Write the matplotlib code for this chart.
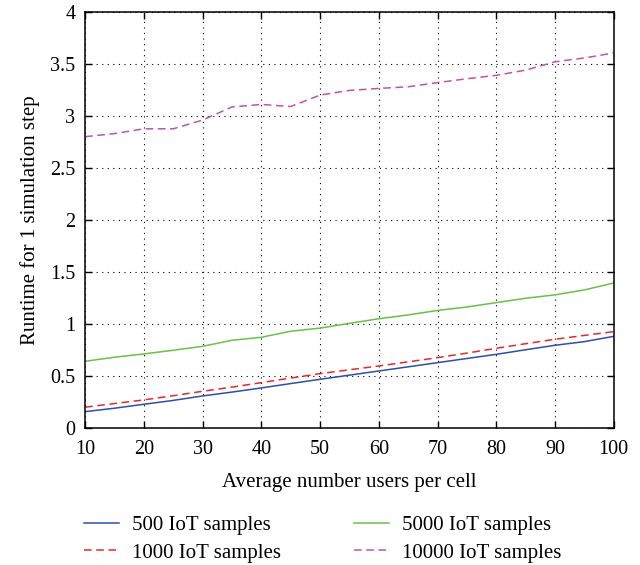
import matplotlib
matplotlib.use("Agg")
import matplotlib.pyplot as plt

users = [10, 15, 20, 25, 30, 35, 40, 45, 50, 55, 60, 65, 70, 75, 80, 85, 90, 95, 100]
s500 = [0.157, 0.19, 0.228, 0.265, 0.308, 0.345, 0.385, 0.427, 0.468, 0.508, 0.548, 0.588, 0.628, 0.668, 0.708, 0.752, 0.795, 0.83, 0.881]
s1000 = [0.20, 0.235, 0.27, 0.31, 0.353, 0.393, 0.436, 0.48, 0.522, 0.56, 0.596, 0.636, 0.676, 0.72, 0.766, 0.81, 0.853, 0.89, 0.926]
s5000 = [0.641, 0.68, 0.712, 0.747, 0.785, 0.843, 0.872, 0.93, 0.96, 1.006, 1.05, 1.087, 1.13, 1.163, 1.205, 1.247, 1.28, 1.327, 1.394]
s10000 = [2.80, 2.83, 2.876, 2.876, 2.96, 3.086, 3.11, 3.09, 3.20, 3.245, 3.264, 3.28, 3.32, 3.357, 3.39, 3.44, 3.52, 3.557, 3.605]
labels = ["500 IoT samples", "1000 IoT samples", "5000 IoT samples", "10000 IoT samples"]
xticks = [10, 20, 30, 40, 50, 60, 70, 80, 90, 100]
yticks = [0, 0.5, 1, 1.5, 2, 2.5, 3, 3.5, 4]
ytick_labels = ["0", "0.5", "1", "1.5", "2", "2.5", "3", "3.5", "4"]

plt.rcParams['font.family'] = ['Liberation Serif', 'DejaVu Serif']
fig = plt.figure(figsize=(6.4, 5.65), dpi=100)
ax = fig.add_axes([0.133, 0.2425, 0.826, 0.7365])

ax.plot(users, s500, color='#2f4fa6', lw=1.1, label=labels[0])
ax.plot(users, s1000, color='#e8282b', lw=1.1, ls=(0, (5, 3)), label=labels[1])
ax.plot(users, s5000, color='#6cbf4a', lw=1.1, label=labels[2])
ax.plot(users, s10000, color='#c052ad', lw=1.1, ls=(0, (5, 3)), label=labels[3])

ax.set_xlim(10, 100)
ax.set_ylim(0, 4)
ax.set_xticks(xticks)
ax.set_yticks(yticks)
ax.set_yticklabels(ytick_labels)
ax.tick_params(direction='in', length=5, width=1, top=True, right=True, labelsize=14.5)
ax.tick_params(axis='y', pad=7)
ax.tick_params(axis='x', pad=9)
ax.grid(True, color='black', ls=(0, (1, 4)), lw=0.8)
for sp in ax.spines.values():
    sp.set_linewidth(1.1)

ax.set_xlabel("Average number users per cell", fontsize=15, labelpad=10)
ax.set_ylabel("Runtime for 1 simulation step", fontsize=15, labelpad=7)

fig.legend(loc='center', bbox_to_anchor=(0.504, 0.046), ncol=2, frameon=False,
           fontsize=15, handlelength=1.7, handletextpad=0.6, columnspacing=3.5,
           labelspacing=0.4)

fig.savefig("out.png", dpi=100)
